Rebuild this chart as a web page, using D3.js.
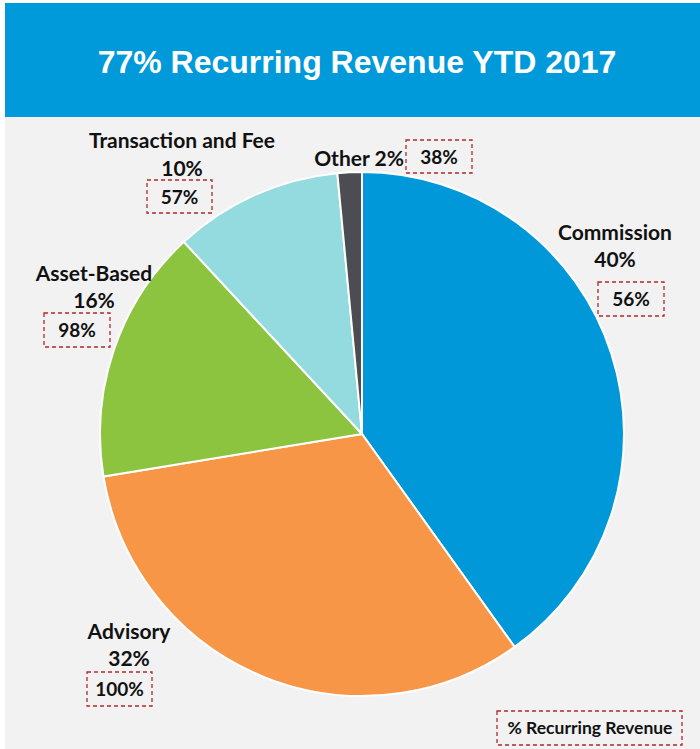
<!DOCTYPE html>
<html>
<head>
<meta charset="utf-8">
<script src="https://cdn.jsdelivr.net/npm/d3@7"></script>
<style>
  body { margin: 0; background: #fff; }
  text { font-family: "Lato", "Open Sans", sans-serif; font-weight: bold; fill: #111; }
</style>
</head>
<body>
<div id="chart-area"></div>
<script>
// slices, clockwise from 12 o'clock
var categories = ["Commission", "Advisory", "Asset-Based", "Transaction and Fee", "Other"];
var shares = [40.1, 32.3, 15.7, 10.4, 1.5];
var shareLabels = ["40%", "32%", "16%", "10%", "2%"];
var recurringLabels = ["56%", "100%", "98%", "57%", "38%"];
var colors = ["#0098d9", "#f79646", "#8dc43f", "#93dbdf", "#4b4d52"];

var width = 700, height = 749;

var svg = d3.select("#chart-area")
    .append("svg")
        .attr("width", width)
        .attr("height", height);

// panel + title bar
svg.append("rect")
    .attr("x", 5).attr("y", 117)
    .attr("width", width - 5).attr("height", height - 117)
    .attr("fill", "#f2f2f2");

svg.append("rect")
    .attr("x", 5).attr("y", 3)
    .attr("width", width - 5).attr("height", 114)
    .attr("fill", "#0099d9");

svg.append("text")
    .attr("x", 357)
    .attr("y", 73)
    .attr("text-anchor", "middle")
    .style("font-family", "'Liberation Sans', Arial, sans-serif")
    .style("font-size", "32px")
    .style("fill", "#fff")
    .text("77% Recurring Revenue YTD 2017");

// Pie
var cx = 362, cy = 434, radius = 262;

var pie = d3.pie().sort(null).value(function(d){ return d; });
var arc = d3.arc().innerRadius(0).outerRadius(radius);

var g = svg.append("g")
    .attr("transform", "translate(" + cx + "," + cy + ")");

g.selectAll("path")
    .data(pie(shares))
    .enter()
    .append("path")
        .attr("d", arc)
        .attr("fill", function(d, i){ return colors[i]; })
        .attr("stroke", "#fff")
        .attr("stroke-width", 2);

// label layout (name line, share line, recurring box)
var labelLayout = [
    { name: [615, 240], share: [615, 267], box: [598, 282, 66, 34] },
    { name: [129, 639], share: [129, 666], box: [87, 672, 65, 34] },
    { name: [94, 281],  share: [94, 308],  box: [44, 313, 66, 34] },
    { name: [182, 148], share: [182, 176], box: [147, 180, 65, 33] },
    { name: [359, 166], share: null,       box: [406, 140, 66, 33] }
];

categories.forEach(function(c, i) {
    var L = labelLayout[i];
    var nameText = L.share ? c : c + " " + shareLabels[i];

    svg.append("text")
        .attr("x", L.name[0])
        .attr("y", L.name[1])
        .attr("text-anchor", "middle")
        .style("font-size", "21px")
        .text(nameText);

    if (L.share) {
        svg.append("text")
            .attr("x", L.share[0])
            .attr("y", L.share[1])
            .attr("text-anchor", "middle")
            .style("font-size", "21px")
            .text(shareLabels[i]);
    }

    svg.append("rect")
        .attr("x", L.box[0]).attr("y", L.box[1])
        .attr("width", L.box[2]).attr("height", L.box[3])
        .attr("fill", "none")
        .attr("stroke", "#b0282d")
        .attr("stroke-width", 1.3)
        .attr("stroke-dasharray", "4,3");

    svg.append("text")
        .attr("x", L.box[0] + L.box[2] / 2)
        .attr("y", L.box[1] + L.box[3] / 2 + 7)
        .attr("text-anchor", "middle")
        .style("font-size", "19px")
        .text(recurringLabels[i]);
});

// key box
svg.append("rect")
    .attr("x", 497).attr("y", 711)
    .attr("width", 185).attr("height", 34)
    .attr("fill", "none")
    .attr("stroke", "#b0282d")
    .attr("stroke-width", 1.3)
    .attr("stroke-dasharray", "4,3");

svg.append("text")
    .attr("x", 590)
    .attr("y", 734)
    .attr("text-anchor", "middle")
    .style("font-size", "17.5px")
    .text("% Recurring Revenue");
</script>
</body>
</html>
